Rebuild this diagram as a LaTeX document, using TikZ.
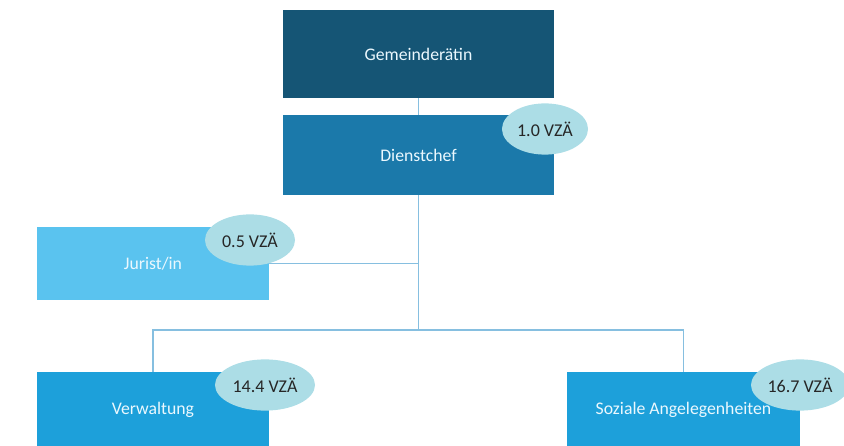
\documentclass[tikz,border=0pt]{standalone}
\usepackage{fontspec}
\setmainfont{Carlito}
\usetikzlibrary{shapes.geometric}
\definecolor{gemcol}{HTML}{155575}
\definecolor{chefcol}{HTML}{1B79AA}
\definecolor{jurcol}{HTML}{5AC3EF}
\definecolor{abtcol}{HTML}{1DA0DA}
\definecolor{vzacol}{HTML}{ACDDE6}
\definecolor{linecol}{HTML}{86BFE0}
\tikzset{
  unit/.style={rectangle, fill=#1, text=white!92!cyan, font=\fontsize{12.6}{14}\selectfont, inner sep=0pt},
  vza/.style={ellipse, fill=vzacol, text=black!85, font=\fontsize{12.8}{14}\selectfont, inner sep=0pt, minimum height=1.28cm},
  link/.style={draw=linecol, line width=0.9pt}
}
\begin{document}
\begin{tikzpicture}[x=0.025cm,y=-0.025cm]
                \clip (0,0) rectangle (844,446);
                % boxes
                \node[unit=gemcol, minimum width=6.775cm, minimum height=2.2cm] (gem) at (418.5,54) {Gemeinderätin};
                \node[unit=chefcol, minimum width=6.775cm, minimum height=2cm] (chef) at (418.5,155) {Dienstchef};
                \node[unit=jurcol, minimum width=5.8cm, minimum height=1.825cm] (jur) at (153,263.5) {Jurist/in};
                \node[unit=abtcol, minimum width=5.8cm, minimum height=1.875cm] (verw) at (153,410) {Verwaltung};
                \node[unit=abtcol, minimum width=5.8cm, minimum height=1.875cm] (soz) at (683.5,410) {Soziale Angelegenheiten};
                \coordinate (hub) at (418.5,330);
                % connectors
                \draw[link] (gem) -- (chef);
                \draw[link] (chef.south) -- (hub);
                \draw[link] (jur.east) -- (jur.east -| chef.south);
                \draw[link] (verw.north) |- (hub) -| (soz.north);
                % staff counts
                \node[vza, minimum width=2.15cm] (vzachef) at (545,129) {1.0 VZÄ};
                \node[vza, minimum width=2.25cm] (vzajur) at (250,240) {0.5 VZÄ};
                \node[vza, minimum width=2.5cm] (vzaverw) at (265,385) {14.4 VZÄ};
                \node[vza, minimum width=2.45cm] (vzasoz) at (800,385) {16.7 VZÄ};
            \end{tikzpicture}
\end{document}
